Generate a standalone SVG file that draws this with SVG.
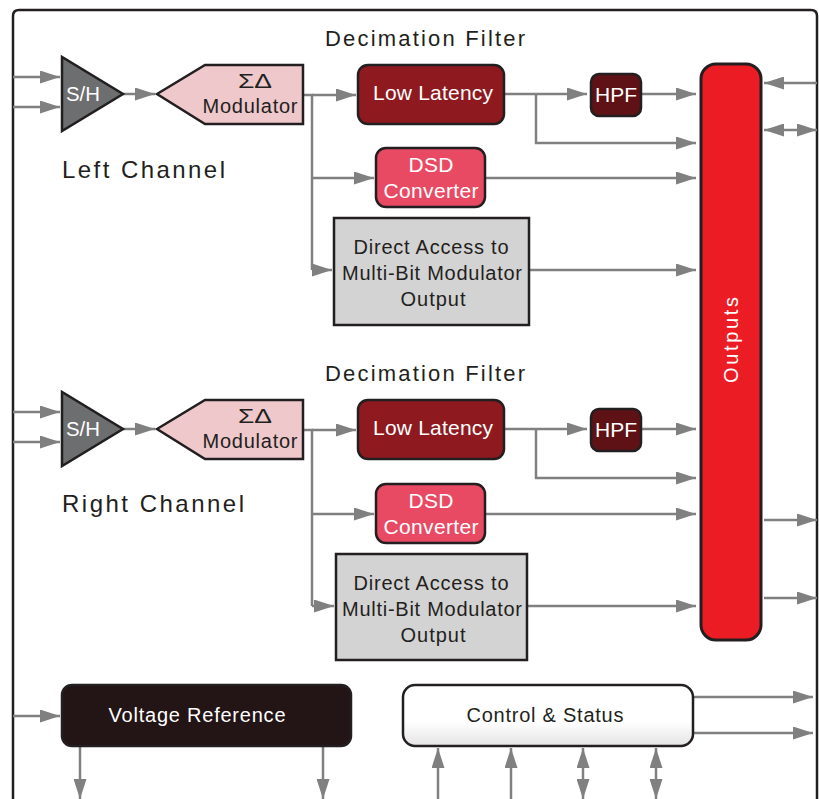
<svg xmlns="http://www.w3.org/2000/svg" width="819" height="799" viewBox="0 0 819 799">
<defs>
<marker id="ah" markerUnits="userSpaceOnUse" markerWidth="20" markerHeight="13" refX="20" refY="6.5" orient="auto-start-reverse">
<path d="M0,0 L20,6.5 L0,13 z" fill="#808080"/>
</marker>
<linearGradient id="cs" x1="0" y1="0" x2="0" y2="1">
<stop offset="0" stop-color="#ffffff"/>
<stop offset="0.6" stop-color="#ffffff"/>
<stop offset="1" stop-color="#e4e4e4"/>
</linearGradient>
</defs>
<style>
.c{stroke:#808080;stroke-width:2.5;fill:none}
.a{marker-end:url(#ah)}
.b{marker-start:url(#ah);marker-end:url(#ah)}
.t{font-family:"Liberation Sans",Arial,sans-serif;fill:#231f20;text-anchor:middle}
.w{font-family:"Liberation Sans",Arial,sans-serif;fill:#ffffff;text-anchor:middle}
.s{text-anchor:start}
.bx{stroke:#231f20;stroke-width:2.5}
</style>
<rect width="819" height="799" fill="#ffffff"/>
<path d="M13,799 V16 Q13,10 19,10 H811 Q817,10 817,16 V799" fill="none" stroke="#231f20" stroke-width="2.5"/>

<g id="connectors">
<line class="c a" x1="13" y1="77" x2="60" y2="77"/>
<line class="c a" x1="13" y1="107" x2="60" y2="107"/>
<line class="c a" x1="123" y1="94" x2="155" y2="94"/>
<path class="c" d="M303,95 H312 V270"/>
<line class="c a" x1="312" y1="95" x2="356" y2="95"/>
<line class="c a" x1="312" y1="178" x2="374" y2="178"/>
<line class="c a" x1="312" y1="270" x2="332" y2="270"/>
<line class="c a" x1="504" y1="94" x2="587" y2="94"/>
<path class="c a" d="M536,94 V143 H696"/>
<line class="c a" x1="641" y1="94" x2="696" y2="94"/>
<line class="c a" x1="485" y1="178" x2="696" y2="178"/>
<line class="c a" x1="529" y1="270" x2="696" y2="270"/>
<line class="c a" x1="13" y1="412" x2="60" y2="412"/>
<line class="c a" x1="13" y1="442" x2="60" y2="442"/>
<line class="c a" x1="123" y1="429" x2="155" y2="429"/>
<path class="c" d="M303,430 H312 V606"/>
<line class="c a" x1="312" y1="430" x2="356" y2="430"/>
<line class="c a" x1="312" y1="514" x2="374" y2="514"/>
<line class="c a" x1="312" y1="606" x2="334" y2="606"/>
<line class="c a" x1="504" y1="429" x2="587" y2="429"/>
<path class="c a" d="M536,429 V478 H696"/>
<line class="c a" x1="641" y1="429" x2="696" y2="429"/>
<line class="c a" x1="485" y1="514" x2="696" y2="514"/>
<line class="c a" x1="527" y1="606" x2="696" y2="606"/>
<line class="c a" x1="817" y1="83" x2="764" y2="83"/>
<line class="c b" x1="764" y1="130" x2="817" y2="130"/>
<line class="c a" x1="764" y1="520" x2="817" y2="520"/>
<line class="c a" x1="764" y1="598" x2="817" y2="598"/>
<line class="c a" x1="13" y1="716" x2="60" y2="716"/>
<line class="c a" x1="80" y1="746" x2="80" y2="799"/>
<line class="c a" x1="323" y1="746" x2="323" y2="799"/>
<line class="c a" x1="693" y1="697" x2="813" y2="697"/>
<line class="c a" x1="693" y1="733" x2="813" y2="733"/>
<line class="c a" x1="438" y1="799" x2="438" y2="748"/>
<line class="c a" x1="511" y1="799" x2="511" y2="748"/>
<line class="c b" x1="583" y1="748" x2="583" y2="799"/>
<line class="c b" x1="656" y1="748" x2="656" y2="799"/>
</g>

<text class="t" x="425" y="46" font-size="22" textLength="200" lengthAdjust="spacing">Decimation Filter</text>
<text class="t" x="425" y="381" font-size="22" textLength="200" lengthAdjust="spacing">Decimation Filter</text>
<text class="t s" x="62" y="178" font-size="24" textLength="163" lengthAdjust="spacing">Left Channel</text>
<text class="t s" x="62" y="512" font-size="24" textLength="182" lengthAdjust="spacing">Right Channel</text>

<g id="sh-left">
<polygon class="bx" points="62,57 62,131 123,94" fill="#6d6e70"/>
<text class="w s" x="66" y="101" font-size="20" textLength="34" lengthAdjust="spacingAndGlyphs">S/H</text>
</g>
<g id="mod-left">
<polygon class="bx" points="157,94 205,65 303,65 303,124 205,124" fill="#efc8cc"/>
<text class="t" x="255" y="88" font-size="21" font-family="Liberation Serif" textLength="34" lengthAdjust="spacingAndGlyphs">ΣΔ</text>
<text class="t" x="250" y="113" font-size="20" textLength="95" lengthAdjust="spacing">Modulator</text>
</g>
<g id="lowlat-left">
<rect class="bx" x="358" y="65" width="146" height="59" rx="10" fill="#8e1a1f"/>
<text class="w" x="433" y="100" font-size="21" textLength="120" lengthAdjust="spacing">Low Latency</text>
</g>
<g id="hpf-left">
<rect class="bx" x="591" y="74" width="50" height="42" rx="8" fill="#5e1216"/>
<text class="w" x="616" y="102" font-size="21" textLength="42" lengthAdjust="spacing">HPF</text>
</g>
<g id="dsd-left">
<rect class="bx" x="376" y="148" width="109" height="59" rx="10" fill="#e94a63"/>
<text class="w" x="431" y="172" font-size="21" textLength="45" lengthAdjust="spacing">DSD</text>
<text class="w" x="431" y="198" font-size="21" textLength="95" lengthAdjust="spacing">Converter</text>
</g>
<g id="direct-left">
<rect class="bx" x="334" y="218" width="195" height="107" fill="#d3d3d3"/>
<text class="t" x="431" y="254" font-size="20" textLength="155" lengthAdjust="spacing">Direct Access to</text>
<text class="t" x="432" y="280" font-size="20" textLength="180" lengthAdjust="spacing">Multi-Bit Modulator</text>
<text class="t" x="433" y="306" font-size="20" textLength="65" lengthAdjust="spacing">Output</text>
</g>

<g id="sh-right">
<polygon class="bx" points="62,392 62,466 123,429" fill="#6d6e70"/>
<text class="w s" x="66" y="436" font-size="20" textLength="34" lengthAdjust="spacingAndGlyphs">S/H</text>
</g>
<g id="mod-right">
<polygon class="bx" points="157,429 205,400 303,400 303,459 205,459" fill="#efc8cc"/>
<text class="t" x="255" y="423" font-size="21" font-family="Liberation Serif" textLength="34" lengthAdjust="spacingAndGlyphs">ΣΔ</text>
<text class="t" x="250" y="448" font-size="20" textLength="95" lengthAdjust="spacing">Modulator</text>
</g>
<g id="lowlat-right">
<rect class="bx" x="358" y="400" width="146" height="59" rx="10" fill="#8e1a1f"/>
<text class="w" x="433" y="435" font-size="21" textLength="120" lengthAdjust="spacing">Low Latency</text>
</g>
<g id="hpf-right">
<rect class="bx" x="591" y="409" width="50" height="42" rx="8" fill="#5e1216"/>
<text class="w" x="616" y="437" font-size="21" textLength="42" lengthAdjust="spacing">HPF</text>
</g>
<g id="dsd-right">
<rect class="bx" x="376" y="484" width="109" height="59" rx="10" fill="#e94a63"/>
<text class="w" x="431" y="508" font-size="21" textLength="45" lengthAdjust="spacing">DSD</text>
<text class="w" x="431" y="534" font-size="21" textLength="95" lengthAdjust="spacing">Converter</text>
</g>
<g id="direct-right">
<rect class="bx" x="336" y="554" width="191" height="106" fill="#d3d3d3"/>
<text class="t" x="431" y="590" font-size="20" textLength="155" lengthAdjust="spacing">Direct Access to</text>
<text class="t" x="432" y="616" font-size="20" textLength="180" lengthAdjust="spacing">Multi-Bit Modulator</text>
<text class="t" x="433" y="642" font-size="20" textLength="65" lengthAdjust="spacing">Output</text>
</g>

<g id="outputs">
<rect x="701" y="64" width="60" height="576" rx="15" fill="#ec1c24" stroke="#231f20" stroke-width="3"/>
<text class="w" transform="translate(738,340) rotate(-90)" font-size="20" textLength="86" lengthAdjust="spacing">Outputs</text>
</g>

<g id="vref">
<rect class="bx" x="62" y="685" width="289" height="61" rx="10" fill="#231416"/>
<text class="w" x="197" y="722" font-size="20" textLength="177" lengthAdjust="spacing">Voltage Reference</text>
</g>
<g id="control">
<rect class="bx" x="403" y="685" width="290" height="61" rx="12" fill="url(#cs)"/>
<text class="t" x="545" y="722" font-size="20" textLength="157" lengthAdjust="spacing">Control &amp; Status</text>
</g>
</svg>
